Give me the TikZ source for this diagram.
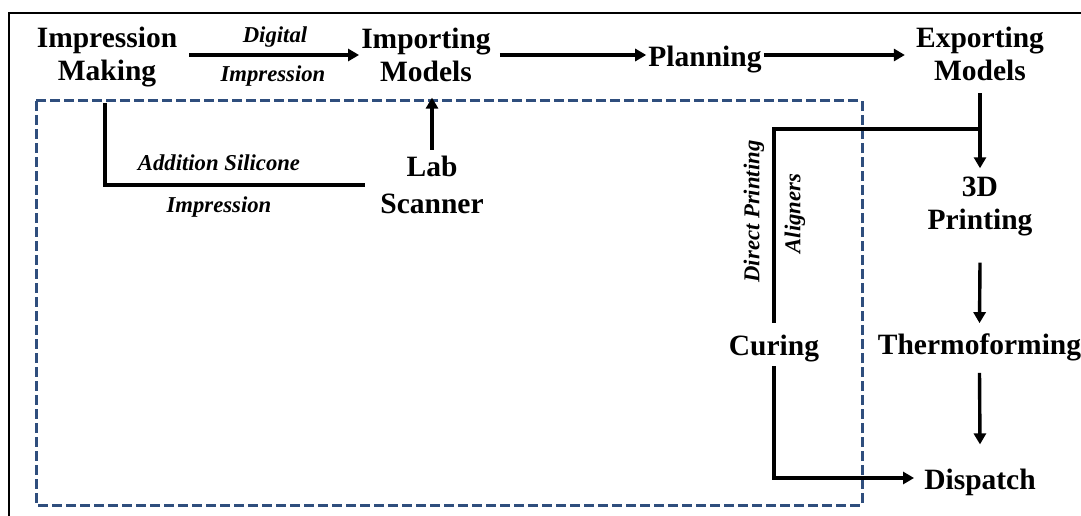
\documentclass[tikz,border=0pt]{standalone}
\usepackage{fontspec}
\setmainfont{Liberation Serif}
\usetikzlibrary{arrows.meta,calc}
\definecolor{boxblue}{HTML}{2F4E7D}
\tikzset{
  stage/.style={font=\fontsize{29.5}{33}\selectfont\bfseries, align=center, inner sep=2pt},
  tag/.style={font=\fontsize{22.7}{24}\selectfont\bfseries\itshape, inner sep=1pt},
  flow/.style={line width=3.4pt},
  arr/.style={flow, -{Triangle[length=11pt,width=12pt]}},
  group/.style={boxblue, line width=3pt, dash pattern=on 10pt off 4pt},
}
\begin{document}
\begin{tikzpicture}[x=1pt,y=-1pt]
\useasboundingbox (0,0) rectangle (1081,516);
% outer frame (only its top and left edges fall inside the page)
\draw[line width=1.6pt] (9,530) -- (9,13) -- (1095,13);
% dashed group box
\draw[group] (36,101) rectangle (862,505);

% stages
\node[stage] (imp) at (107,57.5) {Impression\\Making};
\node[stage] (importing) at (426,54.5) {Importing\\Models};
\node[stage] (plan) at (705,60) {Planning};
\node[stage] (export) at (980,54) {Exporting\\Models};
\node[stage] (lab) at (432,185) {Lab\\[4pt]Scanner};
\node[stage] (print) at (980,206) {3D\\Printing};
\node[stage] (cure) at (774,348.5) {Curing};
\node[stage] (thermo) at (979.5,347) {Thermoforming};
\node[stage] (disp) at (980,482) {Dispatch};

% edge labels
\node[tag] (dig) at (275,37) {Digital};
\node[tag] (digimp) at (273,76.5) {Impression};
\node[tag] (add) at (219,163) {Addition Silicone};
\node[tag] (addimp) at (219,207) {Impression};
\node[tag, rotate=90] (direct) at (754,211.5) {Direct Printing};
\node[tag, rotate=90] (align) at (795,213.5) {Aligners};

% main flow
\draw[arr] ([xshift=10pt]imp.east |- 0,55) -- (importing.west |- 0,55);
\draw[arr] ([xshift=7pt]importing.east |- 0,55) -- (plan.west |- 0,55);
\draw[arr] (plan.east |- 0,55) -- ([xshift=-9pt]export.west |- 0,55);

% conventional impression routed through the lab scanner
\coordinate (labin) at ($(lab.west)+(-13,0)$);
\draw[flow] ([xshift=-2pt,yshift=-13pt]imp.south) |- (labin);
\draw[arr] ([yshift=4pt]lab.north) -- ($(lab.north |- importing.south)+(0,14)$);

% export branches
\coordinate (br) at (export.south |- 0,129);
\draw[arr] ([yshift=-10pt]export.south) -- ([yshift=6pt]print.north);
\draw[flow] (br) -- (br -| cure) -- ([yshift=10pt]cure.north);
\draw[arr] ([yshift=-2pt]cure.south) |- ([xshift=-8pt,yshift=4pt]disp.west);
\draw[arr] ([yshift=-25pt]print.south) -- ([yshift=8pt]thermo.north);
\draw[arr] ([yshift=-10pt]thermo.south) -- ([yshift=22pt]disp.north);
\end{tikzpicture}
\end{document}
